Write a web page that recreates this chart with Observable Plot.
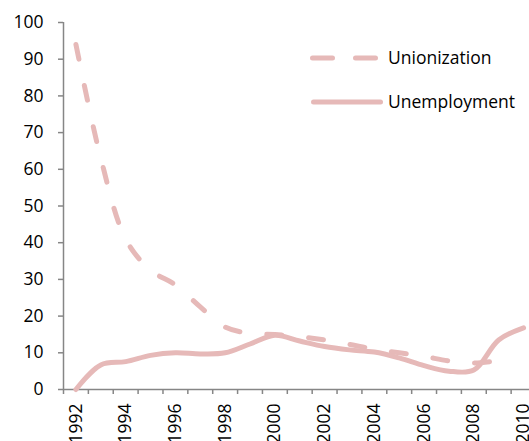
<!DOCTYPE html>
<html><head><meta charset="utf-8">
<script src="https://cdn.jsdelivr.net/npm/d3@7"></script>
<script src="https://cdn.jsdelivr.net/npm/@observablehq/plot@0.6"></script>
<style>
html,body{margin:0;padding:0;background:#fff;}
body{width:529px;height:441px;overflow:hidden;font-family:"Open Sans",sans-serif;}
#wrap{position:relative;width:529px;height:441px;}
</style></head><body><div id="wrap"></div>
<script>
const years = [1992,1993,1994,1995,1996,1997,1998,1999,2000,2001,2002,2003,2004,2005,2006,2007,2008,2009,2010];
const unionization = [94,63,41,32.5,28.5,22.5,17,15.3,15,14.4,13.5,12.3,11,10,9,7.8,7.2,7.9,null];
const unemployment = [0,6.7,7.6,9.3,10,9.7,10,12.4,14.8,13.2,11.7,10.8,10.2,8.6,6.5,5.0,5.3,13.5,16.8];
const yTicks = [0,10,20,30,40,50,60,70,80,90,100];
const xLabels = [1992,1994,1996,1998,2000,2002,2004,2006,2008,2010];
const seriesNames = ["Unionization","Unemployment"];

const lineColor = "#E6B9B8";
const axisGray = "#868686";

const unionRows = years.map((y,i)=>({year:y, value:unionization[i]})).filter(d=>d.value!=null);
const unempRows = years.map((y,i)=>({year:y, value:unemployment[i]})).filter(d=>d.value!=null);
const boundaries = years.map(y=>y-0.5).concat([years[years.length-1]+0.5]);

const chart = Plot.plot({
  width:529, height:441,
  marginLeft:63, marginTop:22, marginBottom:52, marginRight:0,
  style:{fontFamily:"'Open Sans', sans-serif", fontSize:"17.5px", color:"#000", background:"transparent", overflow:"visible"},
  x:{type:"linear", domain:[boundaries[0], boundaries[boundaries.length-1]], range:[63,535.5]},
  y:{domain:[0,100], range:[389,22]},
  marks:[
    Plot.axisY({ticks:yTicks, tickSize:5, tickPadding:15, stroke:axisGray, strokeWidth:1.5, fill:"#000", label:null, tickFormat:d=>String(d)}),
    Plot.axisX({ticks:boundaries, tickSize:5, stroke:axisGray, strokeWidth:1.5, tickFormat:()=>"", label:null}),
    Plot.axisX({ticks:xLabels, tickSize:0, tickPadding:14, tickRotate:-90, fill:"#000", tickFormat:d=>String(d), label:null}),
    Plot.ruleX([boundaries[0]], {stroke:axisGray, strokeWidth:1.5}),
    Plot.ruleY([0], {x1:boundaries[0], x2:boundaries[boundaries.length-1], stroke:axisGray, strokeWidth:1.5}),
    Plot.line(unionRows, {x:"year", y:"value", stroke:lineColor, strokeWidth:5, strokeDasharray:"15 27", strokeLinecap:"round", curve:"catmull-rom"}),
    Plot.line(unempRows, {x:"year", y:"value", stroke:lineColor, strokeWidth:5, strokeLinecap:"round", curve:"catmull-rom"})
  ]
});
document.getElementById("wrap").appendChild(chart);

// legend
const svg = d3.select(chart);
const lg = svg.append("g").attr("class","legend").attr("text-anchor","start");
const legendDefs = [
  {name:seriesNames[0], dash:"20 23", x1:312.5, x2:375.5, y:58},
  {name:seriesNames[1], dash:null, x1:313.5, x2:380.5, y:102}
];
legendDefs.forEach(d=>{
  const l = lg.append("line").attr("x1",d.x1).attr("x2",d.x2).attr("y1",d.y).attr("y2",d.y)
    .attr("stroke",lineColor).attr("stroke-width",5).attr("stroke-linecap","round");
  if (d.dash) l.attr("stroke-dasharray", d.dash);
  lg.append("text").attr("x",388).attr("y",d.y).attr("dy","0.35em").attr("text-anchor","start")
    .attr("font-family","'Open Sans', sans-serif").attr("font-size","17.5px").attr("fill","#000")
    .text(d.name);
});
</script>
</body></html>
